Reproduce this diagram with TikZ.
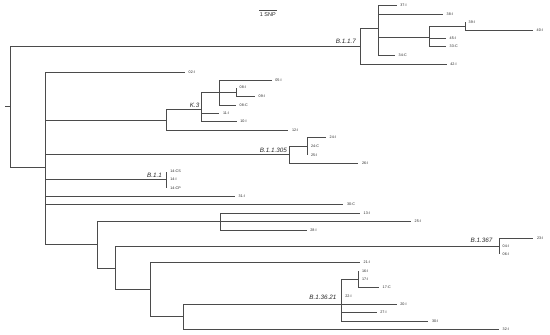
\documentclass[tikz,border=0pt]{standalone}
\usepackage{fontspec}
\setmainfont{Liberation Sans}
\definecolor{treegray}{RGB}{75,75,75}
\tikzset{
  br/.style={draw=treegray, line width=1pt},
  leaf/.style={anchor=west, font=\fontsize{3.7}{4}\selectfont, inner sep=0pt, text=black!85, xshift=3.5pt},
  clade/.style={anchor=south east, font=\fontsize{6.3}{7}\selectfont\itshape, inner sep=0pt, text=black!85},
}
\begin{document}
\begin{tikzpicture}[x=1pt,y=-1pt]
\useasboundingbox (0,0) rectangle (550,335);
% ---- coordinates ----
\coordinate (r0) at (5,106.7);
\coordinate (r) at (10,106.7);
\coordinate (n117) at (360,46);
\coordinate (n117a) at (378,28);
\coordinate (l42) at (446.7,64);
\coordinate (l37) at (396.7,5.7);
\coordinate (l38) at (443,14);
\coordinate (n117b) at (429.3,37.3);
\coordinate (l34C) at (395,55);
\coordinate (n117c) at (465,26.7);
\coordinate (l45) at (446,38.3);
\coordinate (l33C) at (446,46.7);
\coordinate (l39) at (465,22.3);
\coordinate (l40) at (533,30.7);
\coordinate (nA) at (45.7,167.3);
\coordinate (l02) at (185,72.3);
\coordinate (nK3) at (166.7,120);
\coordinate (n305) at (289.3,154.3);
\coordinate (n11) at (166.7,179.3);
\coordinate (l31) at (235,196.7);
\coordinate (l30C) at (343.3,204.3);
\coordinate (nB) at (97.3,244.3);
\coordinate (nK3a) at (201.7,109.3);
\coordinate (l12) at (288.3,130.7);
\coordinate (nK3b) at (219.3,92.5);
\coordinate (l11) at (219.3,113.3);
\coordinate (l10) at (236.7,121.7);
\coordinate (l05) at (271.7,80);
\coordinate (nK3c) at (236,92.5);
\coordinate (l08C) at (236,105);
\coordinate (l08) at (236,87.7);
\coordinate (l09) at (255,96.7);
\coordinate (n305a) at (307.3,146.7);
\coordinate (l26) at (358.3,163.3);
\coordinate (l24) at (326,137.7);
\coordinate (l24C) at (307.3,146.7);
\coordinate (l25) at (307.3,155);
\coordinate (l14CS) at (166.7,171.7);
\coordinate (l14I) at (166.7,179.3);
\coordinate (l14CP) at (166.7,188.3);
\coordinate (nC) at (220,221.7);
\coordinate (nD) at (115,268.3);
\coordinate (l13) at (360,213.3);
\coordinate (l25b) at (411,221.7);
\coordinate (l28) at (306.7,230);
\coordinate (n367) at (499,246.7);
\coordinate (nE) at (150,289.3);
\coordinate (l23) at (533.3,238.3);
\coordinate (l04) at (499,246.7);
\coordinate (l06) at (499,254.3);
\coordinate (l21) at (360,262.5);
\coordinate (nF) at (183.3,316);
\coordinate (n3621) at (341.7,304);
\coordinate (l32) at (499,329.3);
\coordinate (nG) at (358.3,279);
\coordinate (l22) at (341.7,296.7);
\coordinate (l20) at (396.7,304);
\coordinate (l27) at (376.7,312.3);
\coordinate (l30) at (428.3,321.5);
\coordinate (l16) at (358.3,271);
\coordinate (l17) at (358.3,279);
\coordinate (l17C) at (379,287.7);
% ---- branches ----
\draw[br] (r0) -- (r);
\draw[br] (r) |- (n117);
\draw[br] (r) |- (nA);
\draw[br] (n117) |- (n117a);
\draw[br] (n117) |- (l42);
\draw[br] (n117a) |- (l37);
\draw[br] (n117a) |- (l38);
\draw[br] (n117a) |- (n117b);
\draw[br] (n117a) |- (l34C);
\draw[br] (n117b) |- (n117c);
\draw[br] (n117b) |- (l45);
\draw[br] (n117b) |- (l33C);
\draw[br] (n117c) |- (l39);
\draw[br] (n117c) |- (l40);
\draw[br] (nA) |- (l02);
\draw[br] (nA) |- (nK3);
\draw[br] (nA) |- (n305);
\draw[br] (nA) |- (n11);
\draw[br] (nA) |- (l31);
\draw[br] (nA) |- (l30C);
\draw[br] (nA) |- (nB);
\draw[br] (nK3) |- (nK3a);
\draw[br] (nK3) |- (l12);
\draw[br] (nK3a) |- (nK3b);
\draw[br] (nK3a) |- (l11);
\draw[br] (nK3a) |- (l10);
\draw[br] (nK3b) |- (l05);
\draw[br] (nK3b) |- (nK3c);
\draw[br] (nK3b) |- (l08C);
\draw[br] (nK3c) |- (l08);
\draw[br] (nK3c) |- (l09);
\draw[br] (n305) |- (n305a);
\draw[br] (n305) |- (l26);
\draw[br] (n305a) |- (l24);
\draw[br] (n305a) |- (l24C);
\draw[br] (n305a) |- (l25);
\draw[br] (n11) |- (l14CS);
\draw[br] (n11) |- (l14I);
\draw[br] (n11) |- (l14CP);
\draw[br] (nB) |- (nC);
\draw[br] (nB) |- (nD);
\draw[br] (nC) |- (l13);
\draw[br] (nC) |- (l25b);
\draw[br] (nC) |- (l28);
\draw[br] (nD) |- (n367);
\draw[br] (nD) |- (nE);
\draw[br] (n367) |- (l23);
\draw[br] (n367) |- (l04);
\draw[br] (n367) |- (l06);
\draw[br] (nE) |- (l21);
\draw[br] (nE) |- (nF);
\draw[br] (nF) |- (n3621);
\draw[br] (nF) |- (l32);
\draw[br] (n3621) |- (nG);
\draw[br] (n3621) |- (l22);
\draw[br] (n3621) |- (l20);
\draw[br] (n3621) |- (l27);
\draw[br] (n3621) |- (l30);
\draw[br] (nG) |- (l16);
\draw[br] (nG) |- (l17);
\draw[br] (nG) |- (l17C);
% ---- tip labels ----
\node[leaf] (t37) at (l37) {37-I};
\node[leaf] (t38) at (l38) {38-I};
\node[leaf] (t39) at (l39) {39-I};
\node[leaf] (t40) at (l40) {40-I};
\node[leaf] (t45) at (l45) {45-I};
\node[leaf] (t33C) at (l33C) {33-C};
\node[leaf] (t34C) at (l34C) {34-C};
\node[leaf] (t42) at (l42) {42-I};
\node[leaf] (t02) at (l02) {02-I};
\node[leaf] (t05) at (l05) {05-I};
\node[leaf] (t08) at (l08) {08-I};
\node[leaf] (t09) at (l09) {09-I};
\node[leaf] (t08C) at (l08C) {08-C};
\node[leaf] (t11) at (l11) {11-I};
\node[leaf] (t10) at (l10) {10-I};
\node[leaf] (t12) at (l12) {12-I};
\node[leaf] (t24) at (l24) {24-I};
\node[leaf] (t24C) at (l24C) {24-C};
\node[leaf] (t25) at (l25) {25-I};
\node[leaf] (t26) at (l26) {26-I};
\node[leaf] (t14CS) at (l14CS) {14-CS};
\node[leaf] (t14I) at (l14I) {14-I};
\node[leaf] (t14CP) at (l14CP) {14-CP};
\node[leaf] (t31) at (l31) {31-I};
\node[leaf] (t30C) at (l30C) {30-C};
\node[leaf] (t13) at (l13) {13-I};
\node[leaf] (t25b) at (l25b) {25-I};
\node[leaf] (t28) at (l28) {28-I};
\node[leaf] (t23) at (l23) {23-I};
\node[leaf] (t04) at (l04) {04-I};
\node[leaf] (t06) at (l06) {06-I};
\node[leaf] (t21) at (l21) {21-I};
\node[leaf] (t16) at (l16) {16-I};
\node[leaf] (t17) at (l17) {17-I};
\node[leaf] (t17C) at (l17C) {17-C};
\node[leaf] (t22) at (l22) {22-I};
\node[leaf] (t20) at (l20) {20-I};
\node[leaf] (t27) at (l27) {27-I};
\node[leaf] (t30) at (l30) {30-I};
\node[leaf] (t32) at (l32) {32-I};
% ---- clade labels ----
\node[clade] (c117) at (356,44) {B.1.1.7};
\node[clade] (cK3) at (199.5,107.5) {K.3};
\node[clade] (c305) at (287,152.5) {B.1.1.305};
\node[clade] (c11) at (162,177.3) {B.1.1};
\node[clade] (c367) at (492.5,242.5) {B.1.367};
\node[clade] (c3621) at (336.5,299.5) {B.1.36.21};
% ---- scale bar ----
\coordinate (sb1) at (259,10.7);
\coordinate (sb2) at (276.7,10.7);
\draw[br] (sb1) -- (sb2);
\node[font=\fontsize{5.5}{6}\selectfont, anchor=north, inner sep=0pt, text=black!85] (sbl) at (267.8,12.3) {1 SNP};
\end{tikzpicture}
\end{document}
